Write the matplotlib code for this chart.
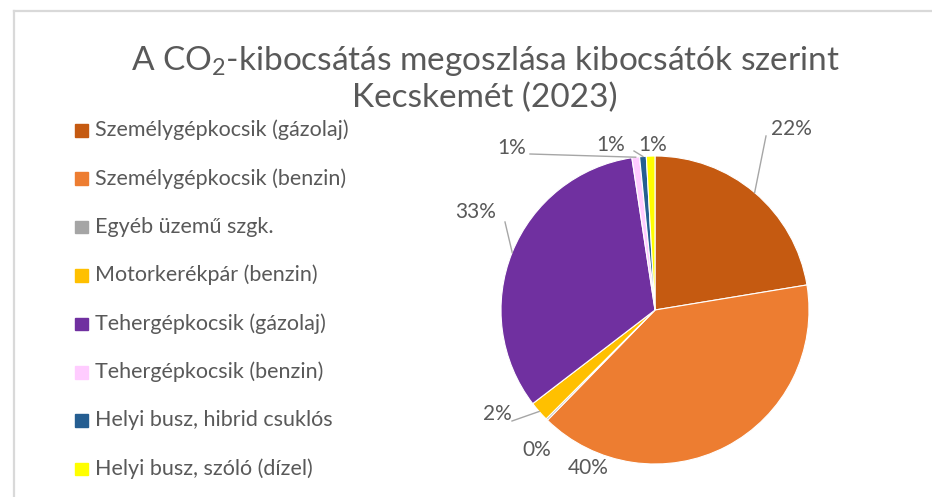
import numpy as np
import matplotlib.pyplot as plt

plt.rcParams['font.family'] = ['Lato', 'DejaVu Sans']
plt.rcParams['mathtext.fontset'] = 'custom'
plt.rcParams['mathtext.rm'] = 'Lato'

categories = ['Személygépkocsik (gázolaj)', 'Személygépkocsik (benzin)', 'Egyéb üzemű szgk.',
              'Motorkerékpár (benzin)', 'Tehergépkocsik (gázolaj)', 'Tehergépkocsik (benzin)',
              'Helyi busz, hibrid csuklós', 'Helyi busz, szóló (dízel)']
shares = [22.4, 39.9, 0.2, 2.1, 33.0, 0.8, 0.7, 0.9]
colors = ['#C55A11', '#ED7D31', '#A5A5A5', '#FFC000', '#7030A0', '#FFCCFF', '#255E91', '#FFFF00']

W, H = 932, 497
fig = plt.figure(figsize=(W / 100, H / 100), dpi=100)
ax = fig.add_axes([0, 0, 1, 1])

txt = '#595959'
line_col = '#A6A6A6'

# pie, center in pixel coords (y up)
cx, cy, R = 655, H - 310, 154
wedges, _ = ax.pie(shares, colors=colors, startangle=90, counterclock=False,
                   center=(cx, cy), radius=R, frame=True,
                   wedgeprops=dict(edgecolor='white', linewidth=0.8))
ax.set_xlim(0, W)
ax.set_ylim(0, H)
ax.set_aspect('equal')
ax.axis('off')

# chart border (top and left visible)
ax.plot([14, W], [H - 11, H - 11], color='#D9D9D9', lw=1.6)
ax.plot([14, 14], [H - 11, 0], color='#D9D9D9', lw=1.6)

# label positions (pixel, y from top) and leader line ends
label_pos = [(791, 129), (588, 468), (537, 450), (497, 414),
             (476, 212), (512, 148), (611, 145), (653, 145)]
leader_end = [(766, 136), None, None, (512, 421), (505, 222), (530, 154), (634, 151), None]

for w, v, (lx, ly), end in zip(wedges, shares, label_pos, leader_end):
    ang = np.deg2rad((w.theta1 + w.theta2) / 2)
    if end is not None:
        rx, ry = cx + R * np.cos(ang), cy + R * np.sin(ang)
        ax.plot([rx, end[0]], [ry, H - end[1]], color=line_col, lw=1.0)
    ax.text(lx, H - ly, '%.0f%%' % v, ha='center', va='center', fontsize=15, color=txt)

# title
ax.text(485, H - 61, 'A CO$_2$-kibocsátás megoszlása kibocsátók szerint', ha='center', va='center',
        fontsize=24, color=txt)
ax.text(485, H - 98, 'Kecskemét (2023)', ha='center', va='center', fontsize=24, color=txt)

# legend
for i, (name, c) in enumerate(zip(categories, colors)):
    y = H - (130 + i * 48.4)
    ax.add_patch(plt.Rectangle((75, y - 6.5), 12.5, 12.5, color=c))
    ax.text(95, y, name, ha='left', va='center', fontsize=15.5, color=txt)

fig.savefig('out.png', dpi=100)
